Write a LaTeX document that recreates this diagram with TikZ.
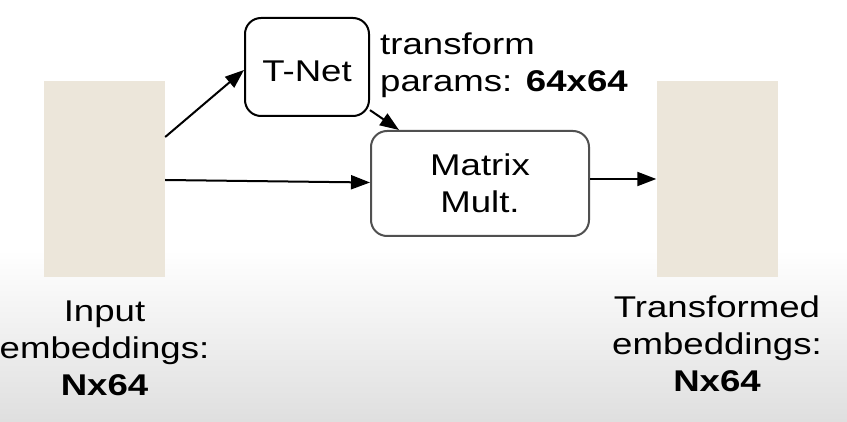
\documentclass[tikz,border=0pt]{standalone}
\usepackage{fontspec}
\setmainfont{Liberation Sans}[FakeStretch=1.22]
\usetikzlibrary{arrows.meta}
\definecolor{embfill}{HTML}{ECE6DA}
\definecolor{mmborder}{HTML}{505050}

\begin{document}
\begin{tikzpicture}[x=1pt, y=1pt,
		embblock/.style={fill=embfill, minimum width=121pt, minimum height=196pt, inner sep=0pt},
		opbox/.style={draw, rounded corners=16pt, line width=2pt, inner sep=0pt, align=center, font=\fontsize{30}{37}\selectfont},
		dimtext/.style={inner sep=0pt, font=\fontsize{30}{37}\selectfont},
		arr/.style={line width=2pt, -{Triangle[length=19pt,width=14pt]}}]
		\useasboundingbox ( 0, 0 ) rectangle ( 847, 421 );
		\shade [top color=white, bottom color=gray!25] ( 0, 0 ) rectangle ( 847, 171 );
		\node [embblock] (in) at ( 104.5, 242 ) {};
		\node [embblock] (out) at ( 717, 242 ) {};
		\node [opbox, draw=black, minimum width=124pt, minimum height=98pt, text height=30pt] (tnet) at ( 307, 354 ) {T-Net};
		\node [opbox, draw=mmborder, minimum width=218pt, minimum height=105pt] (mm) at ( 480, 237.5 ) {Matrix\\Mult.};
		\node [dimtext, anchor=north west, align=left] (params) at ( 380, 388 ) {transform\\params: \textbf{64x64}};
		\node [dimtext, anchor=north, align=center] (inlabel) at ( 104.5, 120.5 ) {Input\\embeddings:\\\textbf{Nx64}};
		\node [dimtext, anchor=north, align=center] (outlabel) at ( 717, 125 ) {Transformed\\embeddings:\\\textbf{Nx64}};
		\draw [arr] ([yshift=42pt]in.east) -- ([yshift=-3pt]tnet.west);
		\draw [arr] ([yshift=-1pt]in.east) -- ([yshift=1pt]mm.west);
		\draw [arr] (tnet) -- ([xshift=29pt]mm.north west);
		\draw [arr] (mm.east |- out.west) -- (out.west);
	\end{tikzpicture}
\end{document}
